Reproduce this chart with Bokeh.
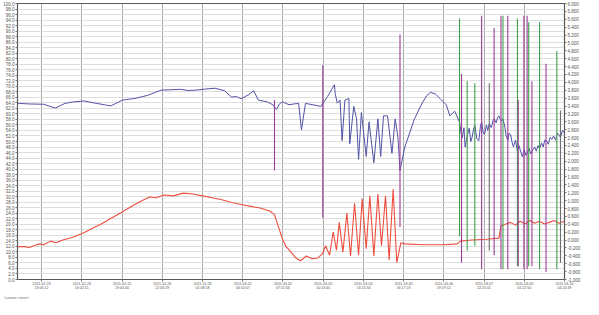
from bokeh.plotting import figure
from bokeh.models import Range1d, LinearAxis, FixedTicker, PrintfTickFormatter, Title, ColumnDataSource
from bokeh.embed import file_html
from bokeh.resources import INLINE

# ---------------- data (time in days from first tick) ----------------
blue_t = [-0.60, -0.55, -0.31, 0.05, 0.34, 0.58, 0.77, 1.05, 1.37, 1.56, 1.72, 2.01, 2.32, 2.63,
          2.97, 3.16, 3.45, 3.64, 3.83, 4.07, 4.31, 4.55, 4.72, 4.84, 4.96, 5.15, 5.27, 5.39, 5.60,
          5.75, 5.84, 5.91, 5.99, 6.15, 6.27, 6.39, 6.46, 6.56, 6.75, 6.94, 6.99, 7.11, 7.28, 7.30,
          7.35, 7.42, 7.47, 7.54, 7.64, 7.66, 7.76, 7.83, 7.88, 7.95, 8.07, 8.14, 8.26, 8.36, 8.43,
          8.50, 8.60, 8.71, 8.79, 8.86, 8.91, 9.03, 9.15, 9.27, 9.46, 9.58, 9.67, 9.79, 9.91, 10.06,
          10.15, 10.27,
          10.39, 10.43, 10.46, 10.50, 10.53, 10.58, 10.63, 10.67, 10.70, 10.74, 10.77, 10.82, 10.87,
          10.91, 10.94, 10.98, 11.01, 11.06, 11.09, 11.13, 11.18, 11.22, 11.25, 11.30, 11.34, 11.37,
          11.42, 11.47, 11.52, 11.55, 11.59, 11.62, 11.66, 11.70, 11.73, 11.78, 11.83, 11.87, 11.90,
          11.95, 12.00, 12.04, 12.07, 12.12, 12.16, 12.21, 12.26, 12.30, 12.34, 12.38, 12.43, 12.47,
          12.51, 12.55, 12.60, 12.64, 12.69, 12.73, 12.78, 12.82, 12.86, 12.90, 12.95, 13.00]
blue_v = [63.9, 63.8, 63.6, 63.5, 62.1, 63.8, 64.3, 64.7, 63.8, 63.3, 62.9, 65.0, 65.6, 66.7,
          68.6, 68.7, 68.9, 68.5, 68.6, 69.0, 69.3, 68.4, 66.1, 66.3, 65.5, 67.0, 68.4, 65.0, 64.4,
          63.3, 61.6, 63.6, 64.4, 63.3, 63.6, 63.8, 54.2, 63.8, 63.3, 62.7, 63.8, 66.3, 70.6, 67.3,
          63.9, 65.0, 50.3, 65.0, 65.6, 49.1, 62.7, 58.2, 43.5, 60.5, 44.6, 57.1, 42.3, 58.2, 44.6,
          59.3, 59.3, 45.7, 58.2, 51.4, 39.5, 48.0, 53.1, 58.2, 63.9, 66.7, 67.8, 67.2, 65.5, 63.3,
          59.3, 61.0,
          57.0, 53.0, 51.4, 55.0, 48.0, 52.0, 54.8, 50.0, 51.4, 54.5, 55.9, 51.0, 50.3,
          55.5, 57.1, 53.0, 52.5, 56.0, 54.0, 56.5, 55.0, 57.5, 58.2, 56.8, 58.8, 59.3,
          57.5, 58.2, 55.0, 52.0, 50.3, 53.0, 52.5, 49.5, 48.0, 50.5, 46.5, 48.5, 46.9,
          44.5, 47.0, 45.0, 45.7, 47.5, 45.5, 46.9, 48.0, 46.5, 48.5, 47.4, 49.5, 48.0,
          50.5, 50.3, 49.0, 51.5, 50.8, 52.0, 50.5, 53.0, 52.5, 51.5, 54.0, 53.1]

red_t = [-0.60, -0.43, -0.31, -0.07, 0.05, 0.22, 0.36, 0.53, 0.77, 1.01, 1.24, 1.48, 1.72, 1.96,
         2.20, 2.44, 2.68, 2.85, 3.04, 3.28, 3.52, 3.76, 4.00, 4.24, 4.48, 4.72, 4.96, 5.20, 5.43,
         5.67, 5.79, 5.89, 5.99, 6.08, 6.20, 6.32, 6.44, 6.58, 6.73, 6.87, 6.99, 7.06, 7.16, 7.25,
         7.33, 7.40, 7.49, 7.59, 7.68, 7.78, 7.88, 7.97, 8.07, 8.16, 8.26, 8.36, 8.45, 8.55, 8.64,
         8.74, 8.83, 8.93, 9.03, 9.50, 9.98, 10.34, 10.41, 10.70, 11.06, 11.37, 11.42, 11.54, 11.66,
         11.78, 11.90, 12.02, 12.14, 12.26, 12.38, 12.50, 12.62, 12.74, 12.86, 13.00]
red_v = [11.9, 11.9, 11.6, 12.9, 12.6, 13.9, 13.3, 14.3, 15.3, 16.7, 18.4, 20.1, 22.1, 24.1,
         26.2, 28.2, 29.9, 29.6, 30.6, 30.3, 31.3, 31.0, 30.3, 29.6, 28.9, 27.9, 27.2, 26.5, 25.9,
         24.8, 23.5, 19.0, 14.6, 11.9, 9.9, 7.8, 6.8, 8.5, 7.5, 7.8, 9.5, 12.2, 8.8, 17.3,
         10.5, 20.7, 9.9, 24.1, 8.5, 27.6, 8.8, 29.3, 11.2, 30.3, 8.5, 31.0, 12.2, 30.3, 7.1,
         32.7, 6.1, 13.3, 12.9, 12.6, 12.6, 12.9, 13.9, 14.3, 14.6, 15.0, 19.4, 20.1, 20.7,
         19.7, 21.1, 20.1, 21.4, 20.4, 21.1, 20.1, 20.7, 21.4, 20.4, 21.1]

spike_t = [5.79, 6.99, 8.91, 10.39, 10.44, 10.58, 10.77, 10.94, 11.13, 11.25, 11.42, 11.47, 11.59,
           11.83, 11.85, 11.99, 12.07, 12.11, 12.19, 12.38, 12.54, 12.81, 12.90]
spike_top = [65.0, 77.6, 88.8, 94.6, 74.5, 71.8, 71.1, 95.6, 71.1, 91.2, 95.6, 95.6, 95.6,
             94.6, 65.0, 95.6, 95.6, 93.2, 71.8, 93.2, 78.2, 82.7, 61.2]
spike_bot = [39.5, 22.4, 19.0, 15.6, 6.1, 10.5, 12.2, 3.7, 10.5, 8.8, 3.7, 3.7, 3.7,
             4.8, 4.8, 3.7, 3.7, 4.8, 4.8, 3.7, 2.7, 3.7, 6.1]
spike_kind = ["p", "p", "p", "g", "p", "g", "g", "p", "k", "p", "p", "g", "p",
              "g", "p", "p", "p", "g", "p", "g", "p", "g", "k"]

x_tick_labels = ["2011-02-23\n13:06:12", "2011-02-24\n16:02:51", "2011-02-25\n19:04:40",
                 "2011-02-26\n22:06:29", "2011-02-28\n01:08:18", "2011-03-01\n04:10:07",
                 "2011-03-02\n07:11:56", "2011-03-03\n10:13:45", "2011-03-04\n13:15:34",
                 "2011-03-05\n16:17:23", "2011-03-06\n19:19:12", "2011-03-07\n22:21:01",
                 "2011-03-09\n01:22:50", "2011-03-10\n04:24:39"]
left_ticks = [v * 2 for v in range(51)]
right_ticks = [round(-1.0 + 0.2 * i, 1) for i in range(36)]
caption_text = "Logger report"

kind_colors = {"p": "#9a3d96", "g": "#3f9e4c", "k": "#6e6e6e"}

# ---------------- figure ----------------
p = figure(width=583, height=299, output_backend="svg", toolbar_location=None,
           x_range=Range1d(-0.6, 13.0), y_range=Range1d(0, 100),
           min_border_left=14, min_border_right=16, min_border_top=3, min_border_bottom=0)
p.background_fill_color = "white"
p.border_fill_color = "white"
p.outline_line_color = "#5a5a5a"
p.outline_line_width = 1.2

p.xaxis.ticker = FixedTicker(ticks=list(range(len(x_tick_labels))))
p.xaxis.major_label_overrides = {i: s for i, s in enumerate(x_tick_labels)}
p.yaxis.ticker = FixedTicker(ticks=left_ticks)
p.yaxis.formatter = PrintfTickFormatter(format="%.1f")

p.extra_y_ranges = {"right": Range1d(-1.0, 6.0)}
ax_r = LinearAxis(y_range_name="right", ticker=FixedTicker(ticks=right_ticks),
                  formatter=PrintfTickFormatter(format="%.3f"))
p.add_layout(ax_r, "right")

for ax in [p.xaxis[0], p.yaxis[0], ax_r]:
    ax.major_label_text_font_size = "4.5px"
    ax.major_label_text_color = "#555555"
    ax.major_label_text_font = "Liberation Sans"
    ax.major_label_text_line_height = 1.0
    ax.axis_line_color = "#5a5a5a"
    ax.major_tick_line_color = "#777777"
    ax.major_tick_out = 2
    ax.major_tick_in = 0
    ax.minor_tick_line_color = None
    ax.major_label_standoff = 1
p.xaxis.major_label_text_font_size = "3.6px"
p.xaxis.major_label_standoff = 0

p.ygrid.ticker = FixedTicker(ticks=left_ticks)
p.ygrid.grid_line_color = "#d6d6d6"
p.ygrid.grid_line_width = 0.8
p.xgrid.grid_line_color = "#a9a9a9"
p.xgrid.grid_line_width = 1

src_s = ColumnDataSource(dict(t=spike_t, top=spike_top, bot=spike_bot,
                              c=[kind_colors[k] for k in spike_kind]))
p.line(blue_t, blue_v, line_color="#5252a6", line_width=1.0)
p.line(red_t, red_v, line_color="#ef4e3e", line_width=1.1)
p.segment(x0="t", y0="bot", x1="t", y1="top", line_color="c", line_width=1.1, source=src_s)

cap = Title(text=caption_text, text_font_size="4px", text_color="#777777",
            text_font="Liberation Sans", text_font_style="normal", align="left",
            standoff=0, offset=-13)
p.add_layout(cap, "below")

open("out.html", "w").write(file_html(p, INLINE))
